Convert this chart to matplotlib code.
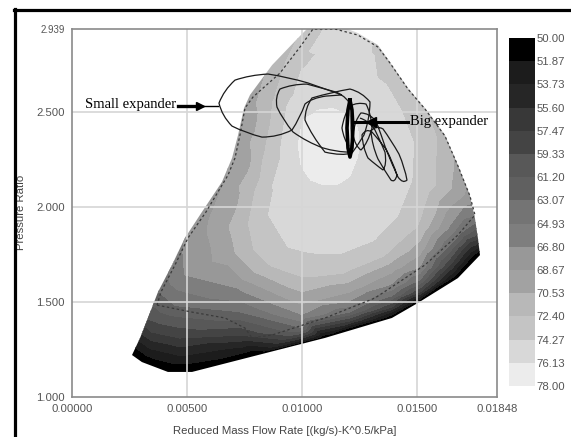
import matplotlib
matplotlib.use('Agg')
import matplotlib.pyplot as plt
import matplotlib.tri as mtri
from matplotlib.patches import Polygon, PathPatch
from matplotlib.path import Path
from matplotlib.lines import Line2D
import numpy as np

plt.rcParams['font.family'] = ['Liberation Sans', 'DejaVu Sans']

# efficiency levels [%] and band shades of the legend bar
levels = [50.00, 51.87, 53.73, 55.60, 57.47, 59.33, 61.20, 63.07,
          64.93, 66.80, 68.67, 70.53, 72.40, 74.27, 76.13, 78.00]
band_grays = ['#000000', '#1c1c1c', '#262626', '#383838', '#444444',
              '#585858', '#606060', '#747474', '#7e7e7e', '#989898',
              '#a2a2a2', '#b8b8b8', '#c4c4c4', '#d8d8d8', '#ececec']

# outline of the turbine map: reduced mass flow, pressure ratio, efficiency
edge_m = [0.00261, 0.00296, 0.00330, 0.00374, 0.00435, 0.00491, 0.00565, 0.00652,
          0.00696, 0.00722, 0.00748, 0.00774, 0.00870, 0.00991, 0.01043, 0.01143,
          0.01243, 0.01330, 0.01383, 0.01461, 0.01535, 0.01622, 0.01678, 0.01730,
          0.01752, 0.01765, 0.01774, 0.01678, 0.01504, 0.01391, 0.01100, 0.00809,
          0.00522, 0.00417, 0.00304]
edge_pr = [1.221, 1.311, 1.416, 1.553, 1.695, 1.837, 1.974, 2.132,
           2.258, 2.379, 2.521, 2.590, 2.747, 2.900, 2.963, 2.963,
           2.916, 2.853, 2.763, 2.626, 2.521, 2.379, 2.221, 2.063,
           1.942, 1.837, 1.747, 1.626, 1.495, 1.416, 1.311, 1.221,
           1.132, 1.132, 1.184]
edge_eff = [50.0, 54.5, 59.5, 63.0, 65.5, 67.0, 68.0, 68.5,
            68.8, 69.0, 69.2, 69.5, 71.0, 72.5, 73.5, 75.0,
            75.0, 74.0, 73.5, 72.8, 72.5, 71.5, 70.0, 68.0,
            64.5, 58.0, 50.0, 50.0, 50.0, 50.0, 50.0, 50.0,
            50.0, 50.0, 50.0]

# efficiency read inside the map, ring by ring from the low edge to the peak
core_m = [
    # 53 %
    0.003391, 0.004696, 0.007304, 0.01, 0.012087, 0.013913, 0.015043, 0.016435, 0.017391,
    # 57.5 %
    0.003478, 0.004696, 0.007304, 0.01, 0.012087, 0.013913, 0.015130, 0.016435, 0.017304,
    # 63 %
    0.004478, 0.007304, 0.01, 0.012087, 0.013913, 0.015130, 0.016435, 0.016957,
    # 66.5 %
    0.004696, 0.007304, 0.01, 0.012087, 0.013913, 0.015130, 0.016435, 0.017087,
    # 69.5 %
    0.007739, 0.007522, 0.006957, 0.006348, 0.006652, 0.007522, 0.01, 0.012087,
    0.013913, 0.015130, 0.016217,
    # 72 %
    0.009130, 0.008609, 0.008261, 0.007826, 0.007522, 0.007739, 0.008522, 0.01,
    0.012087, 0.013913, 0.015130, 0.016, 0.016,
    # 74 %
    0.009913, 0.009478, 0.009130, 0.008957, 0.008522, 0.008261, 0.008522, 0.009261,
    0.010348, 0.011652, 0.013304, 0.014478, 0.015130, 0.015217, 0.014609, 0.013913,
    # 75.8 %
    0.009826, 0.009565, 0.009739, 0.010130, 0.010783, 0.011652, 0.012348, 0.012783,
    0.012739, 0.012174, 0.011304, 0.010435,
    # peak
    0.010696, 0.011435, 0.011217]
core_pr = [
    1.237, 1.200, 1.247, 1.295, 1.374, 1.442, 1.521, 1.632, 1.758,
    1.342, 1.311, 1.326, 1.321, 1.400, 1.474, 1.553, 1.695, 1.816,
    1.479, 1.447, 1.363, 1.447, 1.532, 1.616, 1.800, 1.868,
    1.632, 1.553, 1.426, 1.500, 1.589, 1.679, 1.889, 1.995,
    2.458, 2.247, 2.063, 1.889, 1.747, 1.642, 1.511, 1.574,
    1.679, 1.774, 2.011,
    2.763, 2.563, 2.300, 2.089, 1.905, 1.774, 1.679, 1.616,
    1.658, 1.763, 1.889, 2.116, 2.300,
    2.763, 2.590, 2.432, 2.274, 2.089, 1.932, 1.800, 1.732,
    1.700, 1.695, 1.774, 1.921, 2.116, 2.326, 2.521, 2.668,
    2.500, 2.326, 2.184, 2.116, 2.089, 2.089, 2.142, 2.274,
    2.416, 2.511, 2.553, 2.542,
    2.326, 2.405, 2.221]
core_eff = ([53.0] * 9 + [57.5] * 9 + [63.0] * 8 + [66.5] * 8 + [69.5] * 11
            + [72.0] * 13 + [74.0] * 16 + [75.8] * 12 + [77.2] * 3)

# speed-line envelope (dashed)
env_m = [0.003696, 0.005217, 0.006652, 0.007522, 0.007826, 0.008696, 0.009913, 0.011,
         0.013174, 0.015348, 0.016783, 0.017522, 0.017304, 0.016783, 0.016217, 0.015348,
         0.014609, 0.013826, 0.013304, 0.012435, 0.011435, 0.010478, 0.009913, 0.009043,
         0.007870, 0.007522, 0.007304, 0.007087, 0.006783, 0.005826, 0.005043, 0.004478,
         0.003870, 0.003696]
env_pr = [1.484, 1.447, 1.416, 1.363, 1.311, 1.326, 1.374, 1.416,
          1.521, 1.695, 1.853, 1.958, 2.058, 2.216, 2.374, 2.516,
          2.621, 2.758, 2.842, 2.905, 2.937, 2.937, 2.842, 2.705,
          2.579, 2.521, 2.379, 2.258, 2.168, 1.974, 1.837, 1.695,
          1.553, 1.484]

# small expander operating loops
loop_a_m = [0.011739, 0.011130, 0.010261, 0.009391, 0.008522, 0.007739, 0.007087, 0.006609,
            0.006391, 0.006522, 0.006957, 0.007565, 0.008261, 0.008957, 0.009565, 0.009913,
            0.010130, 0.010435, 0.011043, 0.011739]
loop_a_pr = [2.590, 2.616, 2.653, 2.684, 2.700, 2.695, 2.668, 2.616,
             2.547, 2.479, 2.426, 2.389, 2.368, 2.368, 2.405, 2.468,
             2.542, 2.574, 2.584, 2.590]
loop_b_m = [0.012087, 0.011522, 0.010913, 0.010217, 0.009609, 0.009174, 0.008913, 0.008826,
            0.009043, 0.009565, 0.010217, 0.010870, 0.011478, 0.012, 0.012174, 0.012087,
            0.012174, 0.012087]
loop_b_pr = [2.289, 2.289, 2.311, 2.342, 2.395, 2.458, 2.526, 2.579,
             2.621, 2.647, 2.647, 2.626, 2.605, 2.579, 2.521, 2.432,
             2.353, 2.289]
loop_c_m = [0.012174, 0.011739, 0.011, 0.010435, 0.010130, 0.010130, 0.010435, 0.011304,
            0.012087, 0.012609, 0.012957, 0.012957, 0.012696, 0.012348, 0.012174]
loop_c_pr = [2.284, 2.268, 2.289, 2.374, 2.458, 2.521, 2.574, 2.605,
             2.621, 2.605, 2.553, 2.468, 2.379, 2.311, 2.284]

# big expander operating path
big_m = [0.012043, 0.011826, 0.011739, 0.011826, 0.012087, 0.012435, 0.012783, 0.013,
         0.013043, 0.012870, 0.012565, 0.012304, 0.012217, 0.012304, 0.012565, 0.012913,
         0.013217, 0.013435, 0.013652, 0.013913, 0.014174, 0.014391, 0.014565, 0.014478,
         0.014217, 0.01387, 0.013522, 0.013217, 0.013, 0.013043, 0.013304, 0.013609,
         0.01387, 0.014043, 0.01413, 0.013957, 0.013652, 0.013348,
         0.013043, 0.012783, 0.012609, 0.012652, 0.012870, 0.013217, 0.013522, 0.013696,
         0.013609, 0.013391, 0.01313, 0.012826, 0.012522]
big_pr = [2.321, 2.353, 2.416, 2.484, 2.532, 2.553, 2.542, 2.495,
          2.416, 2.337, 2.300, 2.321, 2.384, 2.458, 2.495, 2.495,
          2.453, 2.384, 2.305, 2.226, 2.158, 2.121, 2.142, 2.205,
          2.279, 2.353, 2.411, 2.432, 2.400, 2.326, 2.253, 2.189,
          2.142, 2.126, 2.168, 2.237, 2.305, 2.353,
          2.395, 2.416, 2.379, 2.311, 2.258, 2.221, 2.195, 2.221,
          2.289, 2.353, 2.416, 2.458, 2.468]

# steady big expander points (narrow loop)
bar_m = [0.012087, 0.012174, 0.012217, 0.012174, 0.012087, 0.012, 0.011957, 0.012, 0.012087]
bar_pr = [2.563, 2.511, 2.416, 2.311, 2.263, 2.311, 2.416, 2.511, 2.563]

x_ticks = [0.0, 0.005, 0.010, 0.015, 0.01848]
x_labels = ['0.00000', '0.00500', '0.01000', '0.01500', '0.01848']
y_ticks = [1.0, 1.5, 2.0, 2.5, 2.939]
y_labels = ['1.000', '1.500', '2.000', '2.500', '2.939']


def curve(ax, xs, ys, **kw):
    # quadratic Bezier through the listed points (odd ones act as control points)
    verts = list(zip(xs, ys))
    n = len(verts) - 1
    codes = [Path.MOVETO] + [Path.CURVE3] * (n - n % 2)
    if n % 2:
        codes.append(Path.LINETO)
    ax.add_patch(PathPatch(Path(verts, codes), fill=False, **kw))


fig = plt.figure(figsize=(5.71, 4.37), dpi=100)
ax = fig.add_axes([0.1261, 0.0915, 0.7443, 0.843])
cax = fig.add_axes([0.8914, 0.1167, 0.0455, 0.7963])

pts_m = np.array(edge_m + core_m)
pts_pr = np.array(edge_pr + core_pr)
pts_eff = np.array(edge_eff + core_eff)
# triangulate with both axes on a comparable scale, then use the real coordinates
aspect = (0.01848 / 1.939) * (368.4 / 425.0)
mesh = mtri.Triangulation(pts_m / aspect, pts_pr)
tri = mtri.Triangulation(pts_m, pts_pr, triangles=mesh.triangles)
cs = ax.tricontourf(tri, pts_eff, levels=levels, colors=band_grays, zorder=1)
outline = Polygon(np.column_stack([edge_m, edge_pr]), closed=True,
                  transform=ax.transData, facecolor='none', edgecolor='none')
cs.set_clip_path(outline)

# grid on top of the shading
for xv in x_ticks[1:-1]:
    ax.axvline(xv, color='#d6d6d6', lw=1.2, zorder=2)
for yv in y_ticks[1:-1]:
    ax.axhline(yv, color='#d6d6d6', lw=1.2, zorder=2)

ax.plot(env_m, env_pr, color='#3a3a3a', lw=0.9, ls=(0, (2, 2)), zorder=3)
for lm, lp in [(loop_a_m, loop_a_pr), (loop_b_m, loop_b_pr), (loop_c_m, loop_c_pr)]:
    curve(ax, lm, lp, edgecolor='#1a1a1a', lw=0.9, zorder=4)
curve(ax, big_m, big_pr, edgecolor='#1a1a1a', lw=0.9, zorder=4)
ax.plot(bar_m, bar_pr, color='k', lw=2.6, zorder=5)

# labels with arrows
ax.text(0.00452, 2.537, 'Small expander', family='Liberation Serif', fontsize=10.5,
        ha='right', va='center', zorder=6)
ax.plot([0.00461, 0.00548], [2.532, 2.532], color='k', lw=2.4, zorder=6)
ax.plot([0.00557], [2.532], marker='>', ms=6, color='k', zorder=6)
ax.plot([0.00557, 0.00635], [2.532, 2.532], color='k', lw=1.0, zorder=6)

ax.text(0.01470, 2.452, 'Big expander', family='Liberation Serif', fontsize=10.5,
        ha='left', va='center', zorder=6)
ax.plot([0.01461, 0.01217], [2.447, 2.447], color='k', lw=2.2, zorder=6)
ax.plot([0.01300], [2.447], marker='<', ms=7, color='k', zorder=6)

ax.set_xlim(0, 0.01848)
ax.set_ylim(1.0, 2.939)
ax.set_xticks(x_ticks)
ax.set_xticklabels(x_labels)
ax.set_yticks(y_ticks)
ax.set_yticklabels(y_labels)
ax.tick_params(length=0, labelsize=8.2, labelcolor='#555555', pad=5)
ax.get_yticklabels()[-1].set_fontsize(7)
for sp in ax.spines.values():
    sp.set_color('#8a8a8a')
    sp.set_linewidth(1.2)
ax.set_xlabel('Reduced Mass Flow Rate [(kg/s)-K^0.5/kPa]', fontsize=8.2, color='#444444')
ax.set_ylabel('Pressure Ratio', fontsize=8.2, color='#444444')
ax.xaxis.set_label_coords(0.5, -0.078)
ax.yaxis.set_label_coords(-0.108, 0.5)

cb = fig.colorbar(cs, cax=cax, ticks=levels)
cb.ax.set_yticklabels(['%.2f' % v for v in levels])
cax.invert_yaxis()
cb.outline.set_visible(False)
cax.tick_params(length=0, labelsize=8.2, labelcolor='#555555', pad=1)

# heavy frame lines along the top and left edges
fig.add_artist(Line2D([14 / 571, 1.0], [0.976, 0.976], color='k', lw=2.3))
fig.add_artist(Line2D([0.0271, 0.0271], [0.0, 0.979], color='k', lw=2.3))

fig.savefig('out.png', dpi=100)
